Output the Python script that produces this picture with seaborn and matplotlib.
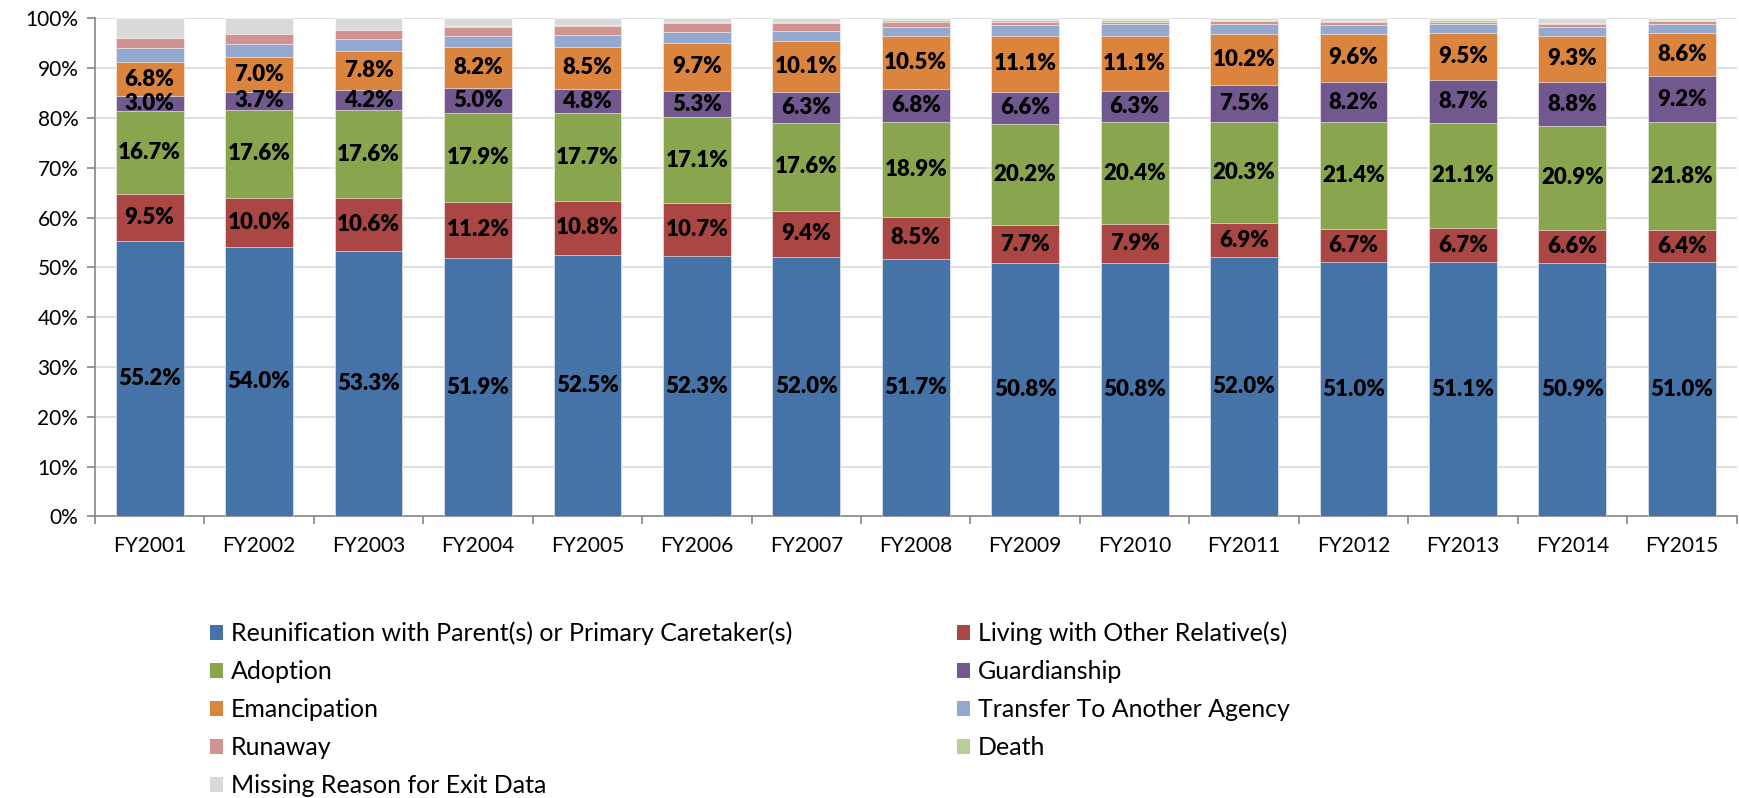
import numpy as np
import pandas as pd
import seaborn as sns
import matplotlib.pyplot as plt
from matplotlib.patches import Patch
from matplotlib.ticker import FixedLocator, PercentFormatter

years = ["FY2001", "FY2002", "FY2003", "FY2004", "FY2005", "FY2006", "FY2007", "FY2008",
         "FY2009", "FY2010", "FY2011", "FY2012", "FY2013", "FY2014", "FY2015"]

reunification = [55.2, 54.0, 53.3, 51.9, 52.5, 52.3, 52.0, 51.7, 50.8, 50.8, 52.0, 51.0, 51.1, 50.9, 51.0]
relative = [9.5, 10.0, 10.6, 11.2, 10.8, 10.7, 9.4, 8.5, 7.7, 7.9, 6.9, 6.7, 6.7, 6.6, 6.4]
adoption = [16.7, 17.6, 17.6, 17.9, 17.7, 17.1, 17.6, 18.9, 20.2, 20.4, 20.3, 21.4, 21.1, 20.9, 21.8]
guardianship = [3.0, 3.7, 4.2, 5.0, 4.8, 5.3, 6.3, 6.8, 6.6, 6.3, 7.5, 8.2, 8.7, 8.8, 9.2]
emancipation = [6.8, 7.0, 7.8, 8.2, 8.5, 9.7, 10.1, 10.5, 11.1, 11.1, 10.2, 9.6, 9.5, 9.3, 8.6]
transfer = [2.8, 2.6, 2.3, 2.3, 2.3, 2.2, 2.0, 1.9, 2.2, 2.3, 2.0, 1.7, 1.7, 1.8, 1.9]
runaway = [2.0, 1.9, 1.8, 1.7, 1.8, 1.7, 1.6, 1.0, 0.7, 0.5, 0.5, 0.6, 0.5, 0.5, 0.5]
death = [0.1, 0.1, 0.1, 0.2, 0.2, 0.3, 0.3, 0.3, 0.3, 0.3, 0.3, 0.3, 0.3, 0.2, 0.2]
missing = [3.9, 3.1, 2.3, 1.6, 1.4, 0.7, 0.7, 0.4, 0.4, 0.4, 0.3, 0.5, 0.4, 1.0, 0.4]

series_names = ["Reunification with Parent(s) or Primary Caretaker(s)", "Living with Other Relative(s)",
                "Adoption", "Guardianship", "Emancipation", "Transfer To Another Agency",
                "Runaway", "Death", "Missing Reason for Exit Data"]
series_values = [reunification, relative, adoption, guardianship, emancipation,
                 transfer, runaway, death, missing]
colors = ["#4572A7", "#AA4643", "#89A54E", "#71588F", "#DB843D",
          "#93A9CF", "#D19392", "#B9CD96", "#D9D9D9"]
labelled = 5  # only the first five series carry data labels

FONT = "Lato"
plt.rcParams["font.family"] = [FONT, "DejaVu Sans"]

vals = np.array(series_values)
tops = vals.cumsum(axis=0)
bottoms = tops - vals

fig = plt.figure(figsize=(17.39, 7.98), dpi=100)
ax = fig.add_axes([0.0546, 0.353, 0.944, 0.624])

# stacked bars: draw cumulative totals from the outermost layer inwards
for i in reversed(range(len(series_names))):
    df = pd.DataFrame({"year": years, "top": tops[i]})
    sns.barplot(data=df, x="year", y="top", color=colors[i], saturation=1,
                width=0.62, edgecolor="white", linewidth=0.4, ax=ax, zorder=3)

for i in range(labelled):
    for j in range(len(years)):
        ax.text(j, bottoms[i, j] + vals[i, j] / 2, f"{vals[i, j]:.1f}%",
                ha="center", va="center", fontsize=16, fontweight="heavy",
                color="black", zorder=5)

ax.set_xlim(-0.5, len(years) - 0.5)
ax.set_ylim(0, 100)
ax.yaxis.set_major_locator(FixedLocator(np.arange(0, 101, 10)))
ax.yaxis.set_major_formatter(PercentFormatter(decimals=0))
ax.grid(axis="y", color="#D9D9D9", linewidth=1.2, zorder=0)
ax.set_axisbelow(True)
ax.set_xlabel("")
ax.set_ylabel("")

for s in ["top", "right"]:
    ax.spines[s].set_visible(False)
for s in ["left", "bottom"]:
    ax.spines[s].set_color("#868686")
    ax.spines[s].set_linewidth(1.2)

ax.xaxis.set_minor_locator(FixedLocator(np.arange(-0.5, len(years), 1)))
ax.tick_params(axis="x", which="major", length=0, pad=14, labelsize=15)
ax.tick_params(axis="x", which="minor", length=6, color="#868686", width=1.2)
ax.tick_params(axis="y", length=6, color="#868686", width=1.2, labelsize=15, pad=6)

handles = [Patch(facecolor=c, edgecolor="none") for c in colors]
order = [0, 2, 4, 6, 8, 1, 3, 5, 7]
fig.legend([handles[k] for k in order], [series_names[k] for k in order],
           ncol=2, loc="upper left", bbox_to_anchor=(0.121, 0.221), frameon=False,
           fontsize=18, handlelength=0.52, handleheight=0.52, handletextpad=0.3,
           labelspacing=0.6, columnspacing=6.6, borderpad=0, borderaxespad=0)

fig.savefig("out.png", dpi=100)
